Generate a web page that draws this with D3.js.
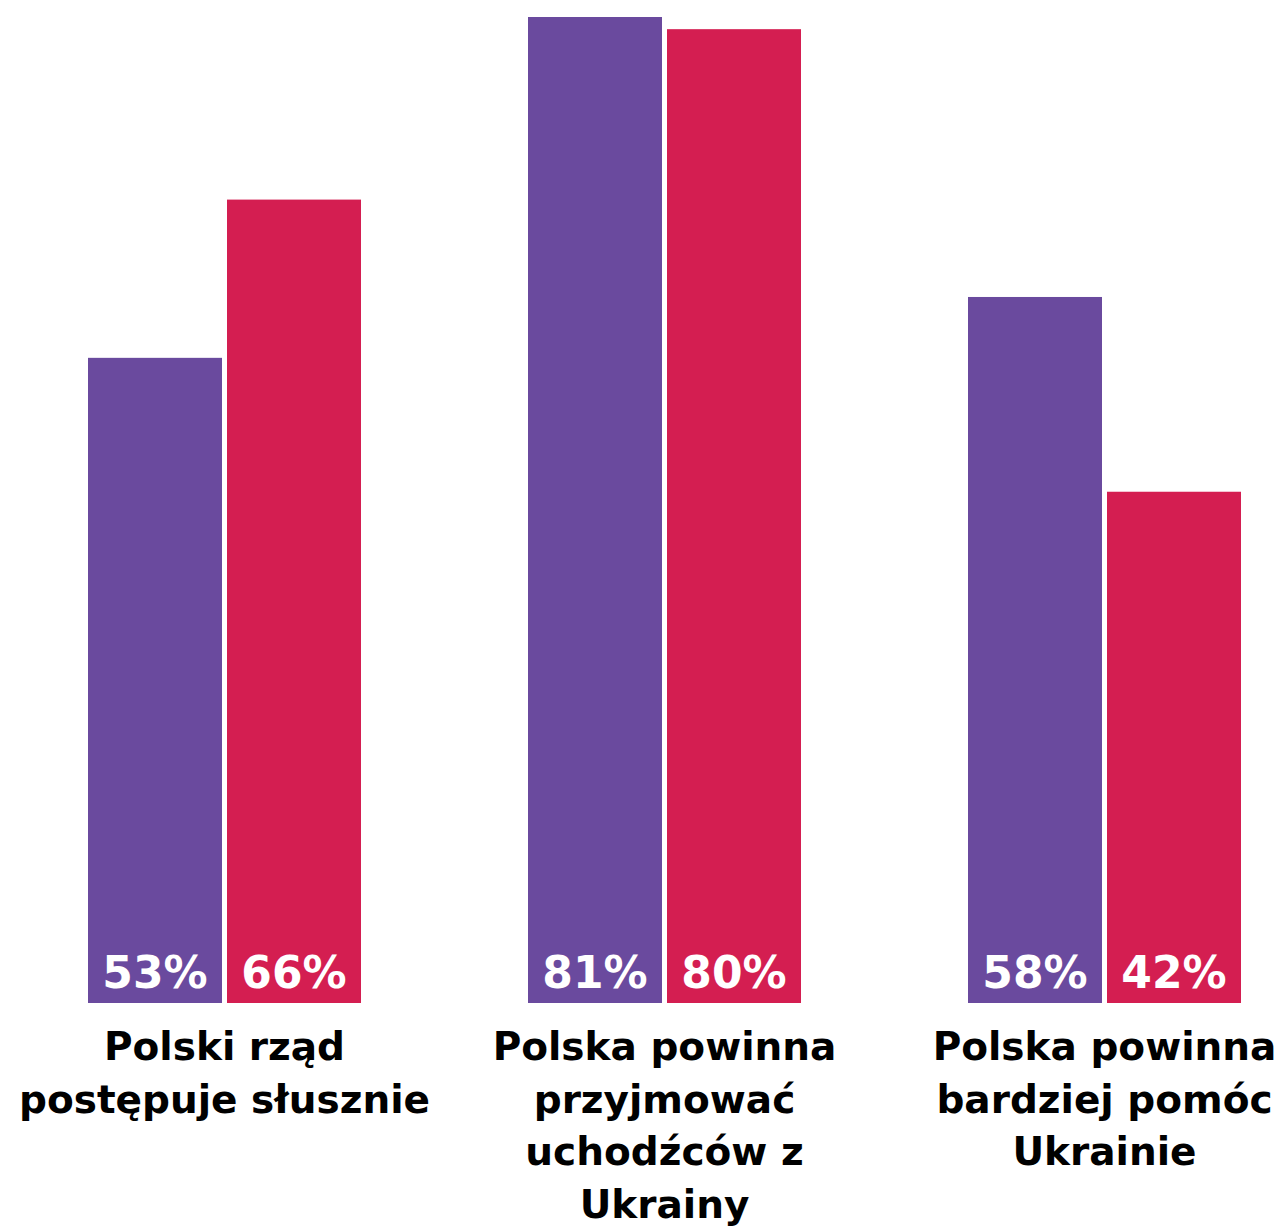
<!DOCTYPE html>
<html lang="pl">
  <head>
    <meta charset="UTF-8" />
    <title>Wykres słupkowy</title>
    <script src="https://cdn.jsdelivr.net/npm/d3@7"></script>
    <style>
      body { margin: 0; background: #fff; }
      text { font-family: "DejaVu Sans", sans-serif; font-weight: bold; }
    </style>
  </head>
  <body>
    <svg id="chart"></svg>
    <script>
      // dane
      const categories = [
        ["Polski rząd", "postępuje słusznie"],
        ["Polska powinna", "przyjmować", "uchodźców z", "Ukrainy"],
        ["Polska powinna", "bardziej pomóc", "Ukrainie"],
      ];
      const seriesNames = ["a", "b"];
      const purpleValues = [53, 81, 58];
      const redValues = [66, 80, 42];
      const colors = ["#6a4a9e", "#d41e51"];

      const width = 1287, height = 1228;
      const baseY = 1003;

      const svg = d3.select("#chart").attr("width", width).attr("height", height);

      const x0 = d3.scaleBand()
        .domain(d3.range(categories.length))
        .range([88, 1241])
        .paddingInner(167 / 440)
        .paddingOuter(0);

      const x1 = d3.scaleBand()
        .domain(seriesNames)
        .range([0, x0.bandwidth()])
        .paddingInner(5 / 139);

      const y = d3.scaleLinear().domain([0, 81]).range([baseY, 17]);

      const color = d3.scaleOrdinal().domain(seriesNames).range(colors);

      const rows = categories.map((c, i) => ({
        i,
        lines: c,
        vals: [
          { key: "a", v: purpleValues[i] },
          { key: "b", v: redValues[i] },
        ],
      }));

      const g = svg.selectAll("g.group")
        .data(rows)
        .join("g")
        .attr("class", "group")
        .attr("transform", d => `translate(${x0(d.i)},0)`);

      g.selectAll("rect")
        .data(d => d.vals)
        .join("rect")
        .attr("x", d => x1(d.key))
        .attr("width", x1.bandwidth())
        .attr("y", d => y(d.v))
        .attr("height", d => y(0) - y(d.v))
        .attr("fill", d => color(d.key));

      g.selectAll("text.val")
        .data(d => d.vals)
        .join("text")
        .attr("class", "val")
        .attr("x", d => x1(d.key) + x1.bandwidth() / 2)
        .attr("y", baseY - 15)
        .attr("text-anchor", "middle")
        .attr("fill", "#fff")
        .attr("font-size", 44)
        .text(d => d.v + "%");

      const lbl = g.append("text")
        .attr("class", "cat")
        .attr("text-anchor", "middle")
        .attr("font-size", 39)
        .attr("fill", "#000");

      lbl.selectAll("tspan")
        .data(d => d.lines)
        .join("tspan")
        .attr("x", x0.bandwidth() / 2)
        .attr("y", (d, j) => 1060 + j * 52.5)
        .text(d => d);
    </script>
  </body>
</html>
